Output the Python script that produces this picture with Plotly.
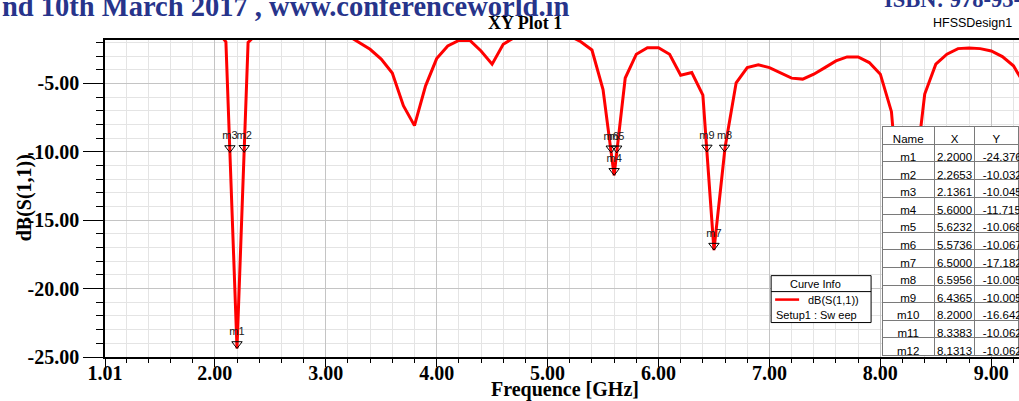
import plotly.graph_objects as go

# ---------------- data ----------------
freq_ghz = [1.0, 1.1, 1.2, 1.3, 1.4, 1.5, 1.6, 1.7, 1.8, 1.9,
            2.0, 2.1, 2.2, 2.3, 2.4, 2.5, 2.6, 2.7, 2.8, 2.9,
            3.0, 3.1, 3.2, 3.3, 3.4, 3.5, 3.6, 3.7, 3.8, 3.9,
            4.0, 4.1, 4.2, 4.3, 4.4, 4.5, 4.6, 4.7, 4.8, 4.9,
            5.0, 5.1, 5.2, 5.3, 5.4, 5.5, 5.6, 5.7, 5.8, 5.9,
            6.0, 6.1, 6.2, 6.3, 6.4, 6.5, 6.6, 6.7, 6.8, 6.9,
            7.0, 7.1, 7.2, 7.3, 7.4, 7.5, 7.6, 7.7, 7.8, 7.9,
            8.0, 8.1, 8.2, 8.3, 8.4, 8.5, 8.6, 8.7, 8.8, 8.9,
            9.0, 9.1, 9.2, 9.3]
s11_db = [-0.6, -0.6, -0.7, -0.7, -0.8, -0.8, -0.9, -0.9, -0.9, -0.9,
          -0.9, -1.96, -24.38, -2.0, -1.2, -1.0, -0.9, -0.9, -0.9, -1.0,
          -1.1, -1.2, -1.5, -2.0, -2.5, -3.22, -4.24, -6.62, -8.08, -5.17,
          -3.18, -2.26, -1.85, -1.85, -2.62, -3.59, -2.13, -1.64, -1.3, -1.1,
          -1.0, -1.1, -1.5, -1.95, -2.55, -5.45, -11.72, -4.6, -2.86, -2.38,
          -2.38, -2.86, -4.4, -4.2, -5.85, -17.18, -9.68, -4.95, -3.84, -3.64,
          -3.84, -4.2, -4.61, -4.68, -4.32, -3.84, -3.35, -3.06, -3.06, -3.47,
          -4.32, -7.06, -16.64, -12.72, -5.77, -3.59, -2.86, -2.45, -2.4, -2.45,
          -2.62, -3.03, -3.71, -5.07]

marker_names = ["m1", "m2", "m3", "m4", "m5", "m6", "m7", "m8", "m9", "m10", "m11", "m12"]
marker_x = [2.2000, 2.2653, 2.1361, 5.6000, 5.6232, 5.5736, 6.5000, 6.5956, 6.4365, 8.2000, 8.3383, 8.1313]
marker_y = [-24.3769, -10.0327, -10.0458, -11.7156, -10.0681, -10.0675, -17.1829, -10.0058, -10.0058,
            -16.6423, -10.0624, -10.0624]

x_tick_vals = [1.01, 2, 3, 4, 5, 6, 7, 8, 9]
x_tick_text = ["1.01", "2.00", "3.00", "4.00", "5.00", "6.00", "7.00", "8.00", "9.00"]
y_tick_vals = [-5, -10, -15, -20, -25]
y_tick_text = ["-5.00", "-10.00", "-15.00", "-20.00", "-25.00"]

chart_title = "XY Plot 1"
design_name = "HFSSDesign1"
x_title = "Frequence [GHz]"
y_title = "dB(S(1,1))"
trace_name = "dB(S(1,1))"
sweep_name = "Setup1 : Sw eep"
header_text = "nd 10th March 2017 , www.conferenceworld.in"
isbn_text = "ISBN: 978-93-86171-"

# ---------------- layout geometry ----------------
W, H = 1019, 401
ML, MR, MT, MB = 104.5, 0, 40, 43.5
PW, PH = W - ML - MR, H - MT - MB


def px(x):
    return (x - ML) / PW


def py(y):
    return (H - MB - y) / PH


SERIF = "Liberation Serif"
SANS = "Liberation Sans"

fig = go.Figure()

fig.add_trace(go.Scatter(
    x=freq_ghz, y=s11_db, mode="lines", name=trace_name,
    line=dict(color="#ff0000", width=3), showlegend=False, hoverinfo="skip",
))

# marker triangles (tip on the point): up-triangle rotated 180 deg, pushed up by standoff
fig.add_trace(go.Scatter(
    x=marker_x, y=marker_y, mode="markers",
    marker=dict(symbol="triangle-up-open", size=9, color="black", angle=180, standoff=4.5,
                line=dict(width=1, color="black")),
    showlegend=False, hoverinfo="skip",
))

# marker labels
fig.add_trace(go.Scatter(
    x=marker_x, y=marker_y, mode="markers+text", text=marker_names,
    textposition="top center",
    textfont=dict(family=SANS, size=11, color="#202020"),
    marker=dict(size=15, color="rgba(0,0,0,0)"),
    showlegend=False, hoverinfo="skip",
))

shapes = []
# Curve Info box
bx0, bx1, by0, by1 = 771, 871, 276, 323
shapes.append(dict(type="rect", xref="paper", yref="paper", x0=px(bx0), x1=px(bx1), y0=py(by1), y1=py(by0),
                   line=dict(color="black", width=1), fillcolor="white", layer="above"))
shapes.append(dict(type="line", xref="paper", yref="paper", x0=px(bx0), x1=px(bx1), y0=py(292), y1=py(292),
                   line=dict(color="black", width=1), layer="above"))
shapes.append(dict(type="line", xref="paper", yref="paper", x0=px(775), x1=px(799), y0=py(300), y1=py(300),
                   line=dict(color="#ff0000", width=2.5), layer="above"))

annotations = [
    dict(text="Curve Info", x=px(815), y=py(284.5), xref="paper", yref="paper", showarrow=False,
         xanchor="center", yanchor="middle", font=dict(family=SANS, size=11, color="black")),
    dict(text=trace_name, x=px(861), y=py(300), xref="paper", yref="paper", showarrow=False,
         xanchor="right", yanchor="middle", font=dict(family=SANS, size=11, color="black")),
    dict(text=sweep_name, x=px(774), y=py(315.5), xref="paper", yref="paper", showarrow=False,
         xanchor="left", yanchor="middle", font=dict(family=SANS, size=11, color="black")),
    dict(text="<b>" + chart_title + "</b>", x=px(525), y=py(23), xref="paper", yref="paper", showarrow=False,
         xanchor="center", yanchor="middle", font=dict(family=SERIF, size=18, color="black")),
    dict(text=design_name, x=px(972), y=py(22.5), xref="paper", yref="paper", showarrow=False,
         xanchor="center", yanchor="middle", font=dict(family=SANS, size=12.5, color="black")),
    dict(text="<b>" + x_title + "</b>", x=px(565), y=py(390), xref="paper", yref="paper", showarrow=False,
         xanchor="center", yanchor="middle", font=dict(family=SERIF, size=20, color="black")),
    dict(text="<b>" + y_title + "</b>", x=px(24), y=py(198), xref="paper", yref="paper", showarrow=False,
         xanchor="center", yanchor="middle", textangle=-90, font=dict(family=SERIF, size=20, color="black")),
    dict(text="<b>" + header_text + "</b>", x=px(-1), y=py(6.0), xref="paper", yref="paper", showarrow=False,
         xanchor="left", yanchor="middle", font=dict(family=SERIF, size=28.5, color="#27348b")),
    dict(text="<b>" + isbn_text + "</b>", x=px(882), y=py(-1), xref="paper", yref="paper", showarrow=False,
         xanchor="left", yanchor="middle", font=dict(family=SERIF, size=22.5, color="#27348b")),
]

# marker table
fig.add_trace(go.Table(
    domain=dict(x=[px(882), 1.0], y=[0.0, py(126.5)]),
    columnwidth=[53, 41, 44],
    header=dict(values=["Name", "X", "Y"], fill_color="white", height=18, align="center",
                line=dict(color="#7a7a7a", width=1),
                font=dict(family=SANS, size=11.5, color="black")),
    cells=dict(values=[marker_names, [f"{v:.4f}" for v in marker_x], [f"{v:.4f}" for v in marker_y]],
               fill_color="white", height=17.6, align=["center", "center", "left"],
               line=dict(color="#7a7a7a", width=1),
               font=dict(family=SANS, size=11.5, color="black")),
))

axis_font = dict(family=SERIF, size=20, color="black", weight="bold")

fig.update_layout(
    width=W, height=H,
    margin=dict(l=ML, r=MR, t=MT, b=MB, pad=0),
    paper_bgcolor="white", plot_bgcolor="white",
    shapes=shapes, annotations=annotations,
    xaxis=dict(
        range=[1.01, 9.25], tickmode="array", tickvals=x_tick_vals, ticktext=x_tick_text,
        ticks="outside", ticklen=8, tickwidth=1, tickcolor="black", ticklabelstandoff=-11,
        showline=True, linecolor="black", linewidth=1.5, mirror=True,
        showgrid=True, gridcolor="#c4c4c4", gridwidth=1, zeroline=False,
        tickfont=axis_font,
        minor=dict(tick0=0, dtick=0.2, ticks="outside", ticklen=4, tickcolor="black",
                   showgrid=True, gridcolor="#e4e4e4", gridwidth=1),
    ),
    yaxis=dict(
        range=[-25, -1.82], tickmode="array", tickvals=y_tick_vals, ticktext=y_tick_text,
        ticks="outside", ticklen=20, tickwidth=1, tickcolor="black",
        showline=True, linecolor="black", linewidth=1.5, mirror=False,
        showgrid=True, gridcolor="#c4c4c4", gridwidth=1, zeroline=False,
        tickfont=axis_font,
        minor=dict(tick0=0, dtick=1, ticks="outside", ticklen=7, tickcolor="black",
                   showgrid=True, gridcolor="#e4e4e4", gridwidth=1),
    ),
)

fig.write_html("out.html")
